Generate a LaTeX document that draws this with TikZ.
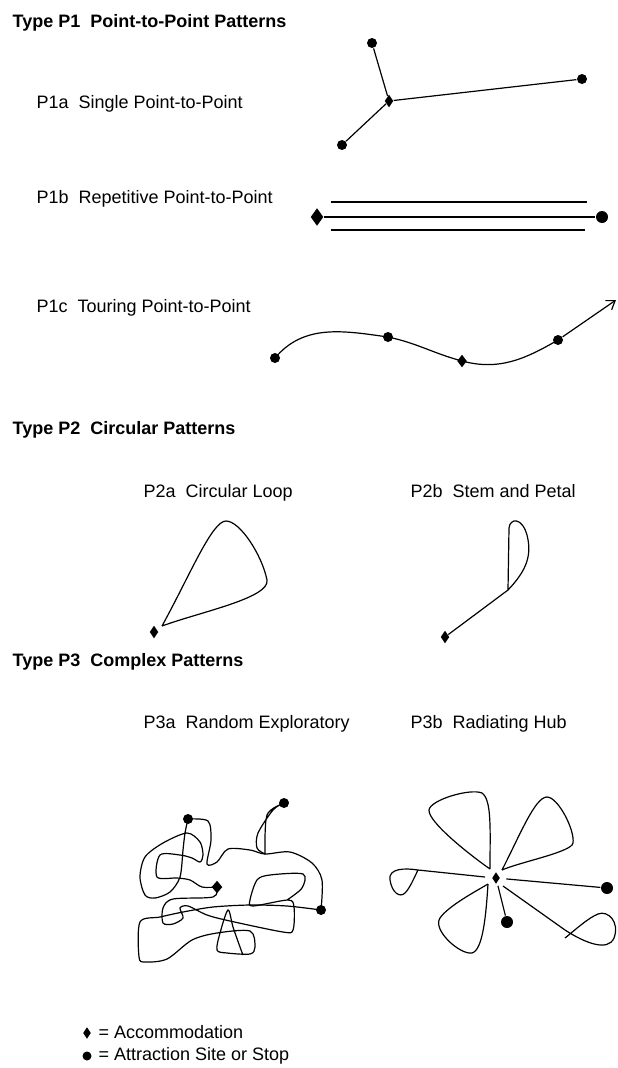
\documentclass[tikz,border=0pt]{standalone}
\usepackage{fontspec}
\setmainfont{Liberation Sans}
\usetikzlibrary{shapes.geometric,arrows.meta}

\begin{document}
\begin{tikzpicture}[x=1pt,y=1pt,line width=1.2pt,
  stop/.style={circle,fill=black,inner sep=0pt,minimum size=10pt},
  lodge/.style={diamond,fill=black,inner sep=0pt,minimum width=9pt,minimum height=13pt},
  heading/.style={anchor=west,inner sep=0pt,font=\fontsize{18}{21}\selectfont\bfseries,text height=14pt,text depth=3pt},
  caption/.style={anchor=west,inner sep=0pt,font=\fontsize{18}{21}\selectfont,text height=14pt,text depth=3pt}]
  \useasboundingbox (0,0) rectangle (618,-1068);

  % type P1
  \node[heading] (t1) at (12,-22) {Type P1\ \ Point-to-Point Patterns};

  % P1a
  \node[caption] (l1a) at (36,-103) {P1a\ \ Single Point-to-Point};
  \node[lodge,minimum width=9pt,minimum height=13pt] (h1a) at (389,-101) {};
  \node[stop] (a1) at (372,-43) {};
  \node[stop] (a2) at (342,-145) {};
  \node[stop] (a3) at (582,-79) {};
  \foreach \s in {a1,a2,a3}
    \draw (h1a) -- (\s);

  % P1b
  \node[caption] (l1b) at (36,-198) {P1b\ \ Repetitive Point-to-Point};
  \node[lodge,minimum width=13pt,minimum height=18pt] (h1b) at (317,-217) {};
  \node[stop,minimum size=12pt] (b1) at (602,-217) {};
  \draw (h1b) -- (b1);
  \coordinate (up1) at (331,-202); \coordinate (up2) at (587,-202);
  \coordinate (lo1) at (331,-230); \coordinate (lo2) at (585,-230);
  \draw (up1) -- (up2);
  \draw (lo1) -- (lo2);

  % P1c
  \node[caption] (l1c) at (36,-307) {P1c\ \ Touring Point-to-Point};
  \node[stop] (c1) at (275,-358) {};
  \node[stop] (c2) at (388,-337) {};
  \node[lodge,minimum width=10pt,minimum height=13pt] (c3) at (462,-361) {};
  \node[stop] (c4) at (558,-340) {};
  \coordinate (c5) at (616,-300);
  \draw (c1.center) to[out=50,in=172] (c2.center) to[out=-12,in=165] (c3.center)
    to[out=-15,in=210] (c4.center);
  \draw[-{Straight Barb[length=8pt,width=11pt]}] (c4) -- (c5);

  % type P2
  \node[heading] (t2) at (12,-429) {Type P2\ \ Circular Patterns};
  \node[caption] (l2a) at (143,-492) {P2a\ \ Circular Loop};
  \node[caption] (l2b) at (410,-492) {P2b\ \ Stem and Petal};

  % P2a loop
  \node[lodge] (h2a) at (154,-632) {};
  \coordinate (la) at (162,-626);
  \draw (la) .. controls (190,-575) and (212,-521) .. (226,-521)
    .. controls (240,-521) and (262,-555) .. (267,-580)
    .. controls (270,-598) and (200,-612) .. (la);

  % P2b stem and petal
  \node[lodge] (h2b) at (445,-637) {};
  \coordinate (j2b) at (508,-590);
  \draw (h2b) -- (j2b) -- (509,-528) .. controls (510,-518) and (522,-517) .. (527,-535)
    .. controls (532,-555) and (527,-570) .. (j2b);

  % type P3
  \node[heading] (t3) at (12,-661) {Type P3\ \ Complex Patterns};
  \node[caption] (l3a) at (143,-723) {P3a\ \ Random Exploratory};
  \node[caption] (l3b) at (410,-723) {P3b\ \ Radiating Hub};

  % P3a random
  \node[stop] (r1) at (188,-819) {};
  \node[stop] (r2) at (284,-803) {};
  \node[lodge,minimum width=11pt,minimum height=13pt] (h3a) at (217,-887) {};
  \node[stop] (r3) at (321,-910) {};
  \draw plot[smooth,tension=.5] coordinates {(r1.center) (208,-821) (211,-840) (207,-864)
    (217,-862) (228,-849) (250,-850) (265,-854) (290,-852) (312,-863) (322,-880) (r3.center)};
  \draw plot[smooth,tension=.5] coordinates {(265,-854) (267,-815) (r2.center) (273,-810)
    (258,-833) (257,-848) (265,-854)};
  \draw plot[smooth,tension=.5] coordinates {(r1.center) (185,-833) (183,-850) (180,-877)
    (170,-892) (155,-898) (145,-895) (140,-877) (145,-857) (163,-843) (187,-833) (200,-842)
    (203,-855) (200,-862) (192,-858) (180,-855) (160,-855) (157,-877) (177,-878) (190,-880)
    (202,-887) (h3a.center)};
  \draw plot[smooth,tension=.5] coordinates {(h3a.center) (213,-897) (173,-899) (163,-908)
    (163,-923) (173,-924) (183,-918) (180,-908) (188,-906) (207,-915) (230,-921) (283,-932)
    (293,-930) (294,-907) (288,-900) (253,-906) (250,-900) (257,-880) (270,-875) (303,-874)
    (302,-888) (287,-900)};
  \draw plot[smooth,tension=.5] coordinates {(r3.center) (287,-906) (250,-905) (213,-907)
    (183,-912) (160,-917) (140,-922) (139,-957) (145,-962) (167,-959) (192,-940) (217,-933)
    (250,-931) (255,-947) (250,-954) (227,-953) (217,-950) (220,-933) (228,-910) (233,-927)
    (240,-947) (243,-955)};

  % P3b radiating hub
  \node[lodge,minimum width=8pt,minimum height=12pt] (h3b) at (496,-878) {};
  \node[stop,minimum size=12pt] (e1) at (607,-888) {};
  \node[stop,minimum size=12pt] (e2) at (507,-922) {};
  \draw[shorten <=6pt] (h3b) -- (e1);
  \draw[shorten <=3pt] (h3b) -- (e2);
  \draw (490,-869) .. controls (490,-830) and (492,-800) .. (482,-793)
    .. controls (470,-788) and (430,-800) .. (429,-810)
    .. controls (428,-822) and (470,-855) .. (490,-869);
  \draw (502,-870) .. controls (520,-835) and (535,-797) .. (547,-797)
    .. controls (558,-797) and (575,-830) .. (573,-843)
    .. controls (572,-852) and (520,-862) .. (502,-870);
  \draw (485,-877) -- (418,-870) .. controls (405,-868) and (388,-868) .. (390,-880)
    .. controls (392,-893) and (400,-898) .. (405,-893)
    .. controls (410,-888) and (414,-878) .. (418,-870);
  \draw (488,-884) .. controls (486,-915) and (483,-950) .. (472,-953)
    .. controls (460,-955) and (432,-930) .. (440,-918)
    .. controls (448,-906) and (478,-890) .. (488,-884);
  \draw (503,-886) -- (565,-930) .. controls (585,-943) and (608,-952) .. (614,-938)
    .. controls (620,-922) and (608,-910) .. (598,-914)
    .. controls (588,-918) and (575,-930) .. (565,-938);

  % legend
  \node[lodge,minimum width=8pt,minimum height=12pt] (kh) at (87,-1033) {};
  \node[caption] (kht) at (98,-1033) {= Accommodation};
  \node[stop,minimum size=9pt] (ks) at (87,-1056) {};
  \node[caption] (kst) at (98,-1055) {= Attraction Site or Stop};
\end{tikzpicture}
\end{document}
